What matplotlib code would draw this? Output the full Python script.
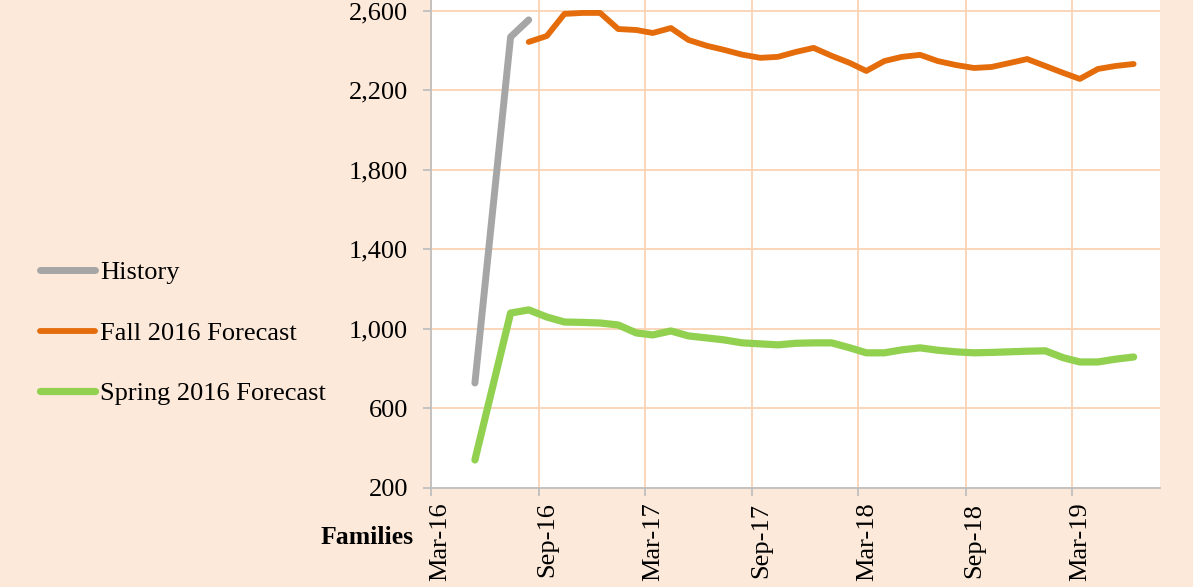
import numpy as np
import pandas as pd
import matplotlib
matplotlib.use("Agg")
import matplotlib.pyplot as plt
import matplotlib.dates as mdates
from matplotlib.ticker import FuncFormatter
from matplotlib.transforms import ScaledTranslation

# History (families)
history_months = ["2016-05", "2016-07", "2016-08"]
history_values = [728, 2469, 2555]

# Fall 2016 forecast: Aug-16 .. Jun-19
fall_start = "2016-08"
fall_values = [2444, 2474, 2585, 2590, 2590, 2509, 2504, 2489, 2514, 2454,
               2425, 2404, 2380, 2364, 2369, 2394, 2414, 2374, 2338, 2298,
               2348, 2369, 2379, 2348, 2328, 2313, 2318, 2338, 2358, 2323,
               2288, 2258, 2308, 2323, 2333]

# Spring 2016 forecast: May-16, then Jul-16 .. Jun-19
spring_first_month = "2016-05"
spring_first_value = 341
spring_start = "2016-07"
spring_values = [1080, 1096, 1060, 1035, 1033, 1030, 1020, 980, 970, 990,
                 965, 955, 945, 930, 925, 920, 928, 930, 930, 905,
                 880, 880, 895, 905, 893, 885, 880, 882, 885, 888,
                 890, 855, 834, 834, 848, 859]

y_ticks = [200, 600, 1000, 1400, 1800, 2200, 2600]

BG = "#FDE9D9"
GRID = "#FAD3B4"
AXIS = "#BFBFBF"
FONT = "Liberation Serif"


def mid_month(months):
    # points sit in the middle of each month on the date axis
    return pd.to_datetime(months) + pd.Timedelta(days=14)


hist_x = mid_month(history_months)
fall_x = pd.date_range(fall_start, periods=len(fall_values), freq="MS") + pd.Timedelta(days=14)
spring_x = mid_month([spring_first_month]).append(
    pd.date_range(spring_start, periods=len(spring_values), freq="MS") + pd.Timedelta(days=14))
spring_y = [spring_first_value] + spring_values

plt.rcParams["font.family"] = FONT

fig = plt.figure(figsize=(11.93, 5.87), dpi=100, facecolor=BG)
ax = fig.add_axes([0.3613, 0.1687, 0.611, 0.8313])
ax.set_facecolor("white")

l1, = ax.plot(hist_x, history_values, color="#A6A6A6", lw=5.0, solid_capstyle="round", zorder=3)
l2, = ax.plot(fall_x, fall_values, color="#E46C0A", lw=4.2, solid_capstyle="round", zorder=3)
l3, = ax.plot(spring_x, spring_y, color="#92D050", lw=5.2, solid_capstyle="round", zorder=3)

ax.set_xlim(pd.Timestamp("2016-03-01"), pd.Timestamp("2019-07-30"))
ax.set_ylim(200, 2655)
ax.set_yticks(y_ticks)
ax.yaxis.set_major_formatter(FuncFormatter(lambda v, p: f"{v:,.0f}"))
ax.xaxis.set_major_locator(mdates.MonthLocator(bymonth=[3, 9]))
ax.xaxis.set_major_formatter(mdates.DateFormatter("%b-%y"))

ax.grid(True, color=GRID, lw=1.3, zorder=0)
ax.set_axisbelow(True)
for s in ["top", "right"]:
    ax.spines[s].set_visible(False)
for s in ["left", "bottom"]:
    ax.spines[s].set_color(AXIS)
    ax.spines[s].set_linewidth(1.3)
ax.tick_params(axis="both", colors=AXIS, length=5.5, width=1.3, labelsize=19, labelcolor="black")
ax.tick_params(axis="x", rotation=90, pad=5)
ax.tick_params(axis="y", pad=11)

# Excel draws the rotated date labels a little right of the tick
shift = ScaledTranslation(9 / 100, 0, fig.dpi_scale_trans)
for lab in ax.get_xticklabels():
    lab.set_transform(lab.get_transform() + shift)

fig.text(414 / 1193, 1 - 537 / 587, "Families", ha="right", va="center",
         fontsize=18.5, fontweight="bold")

ax.legend([l1, l2, l3], ["History", "Fall 2016 Forecast", "Spring 2016 Forecast"],
          loc="center left", bbox_to_anchor=(40 / 1193, 1 - 333 / 587),
          bbox_transform=fig.transFigure, frameon=False, fontsize=19,
          handlelength=2.08, handletextpad=0.19, labelspacing=1.4, borderpad=0,
          borderaxespad=0)

fig.savefig("out.png", dpi=100, facecolor=BG)
